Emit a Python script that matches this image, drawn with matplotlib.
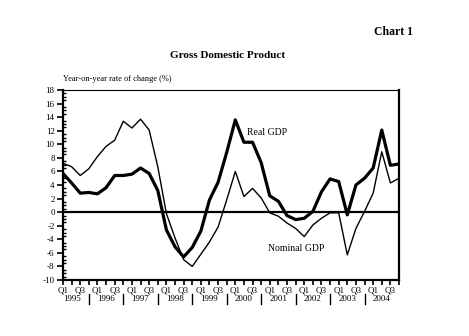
import matplotlib
matplotlib.use('Agg')
import matplotlib.pyplot as plt
import matplotlib.transforms as mtransforms
import numpy as np

plt.rcParams['font.family'] = ['Liberation Serif', 'DejaVu Serif']
plt.rcParams['axes.unicode_minus'] = False

years = ['1995', '1996', '1997', '1998', '1999', '2000', '2001', '2002', '2003', '2004']

# year-on-year % change, 1995Q1 .. 2004Q4
real_gdp = [5.7, 4.3, 2.8, 2.9, 2.7, 3.6, 5.4, 5.4, 5.6, 6.5, 5.7, 3.2,
            -2.6, -5.1, -6.6, -5.2, -2.8, 1.8, 4.4, 8.8, 13.6, 10.3, 10.3, 7.3,
            2.4, 1.6, -0.5, -1.1, -0.9, 0.1, 3.0, 4.9, 4.5, -0.4, 4.0, 5.0,
            6.5, 12.1, 6.9, 7.1]
nominal_gdp = [7.2, 6.7, 5.4, 6.4, 8.2, 9.7, 10.6, 13.4, 12.4, 13.7, 12.1, 6.7,
               -0.2, -3.8, -7.0, -8.0, -6.2, -4.4, -2.2, 1.8, 6.0, 2.3, 3.5, 2.1,
               -0.1, -0.6, -1.6, -2.4, -3.6, -1.9, -0.9, -0.1, -0.1, -6.3, -2.4, 0.1,
               2.8, 8.9, 4.3, 5.0]

x = np.arange(len(real_gdp))

fig = plt.figure(figsize=(4.69, 3.36), dpi=100)
ax = fig.add_axes([63 / 469, 1 - 280 / 336, 336 / 469, 190 / 336])

ax.axhline(0, color='black', lw=1.6, zorder=1)
ax.plot(x, nominal_gdp, color='black', lw=1.0)
ax.plot(x, real_gdp, color='black', lw=2.3)

ax.set_xlim(0, 39)
ax.set_ylim(-10, 18)
ax.set_yticks(np.arange(-10, 19, 2))
ax.set_yticks(np.arange(-10, 18.1, 0.5), minor=True)

ax.set_xticks(np.arange(0, 40, 2))
ax.set_xticklabels(['Q1', 'Q3'] * 10)
ax.set_xticks(np.arange(1, 40, 2), minor=True)

ax.tick_params(axis='x', which='both', direction='out', width=1.2, length=3.5, pad=1.5,
               labelsize=6.5)
ax.tick_params(axis='y', which='major', direction='out', width=1.2, length=4, pad=2,
               labelsize=6.5)
ax.tick_params(axis='y', which='minor', direction='in', width=1.0, length=2.5)

for s in ['left', 'bottom', 'right']:
    ax.spines[s].set_linewidth(1.6)
ax.spines['top'].set_linewidth(0.8)

# year labels under the quarter labels
trans = mtransforms.blended_transform_factory(ax.transData, ax.transAxes)
for i, yr in enumerate(years):
    ax.text(4 * i + 1, -0.1, yr, transform=trans, ha='center', va='center', fontsize=6.5)
    if i < len(years) - 1:
        ax.plot([4 * i + 3, 4 * i + 3], [-0.075, -0.125], transform=trans,
                color='black', lw=1.0, clip_on=False)

ax.text(0, 1.035, 'Year-on-year rate of change (%)', transform=ax.transAxes,
        ha='left', va='bottom', fontsize=6)

ax.text(21.4, 11.7, 'Real GDP', fontsize=7, ha='left', va='center')
ax.text(23.8, -5.3, 'Nominal GDP', fontsize=7, ha='left', va='center')

fig.text(228 / 469, 1 - 55 / 336, 'Gross Domestic Product', ha='center', va='center',
         fontsize=8, fontweight='bold')
fig.text(413 / 469, 1 - 32 / 336, 'Chart 1', ha='right', va='center',
         fontsize=8.5, fontweight='bold')

fig.savefig('out.png', dpi=100)
